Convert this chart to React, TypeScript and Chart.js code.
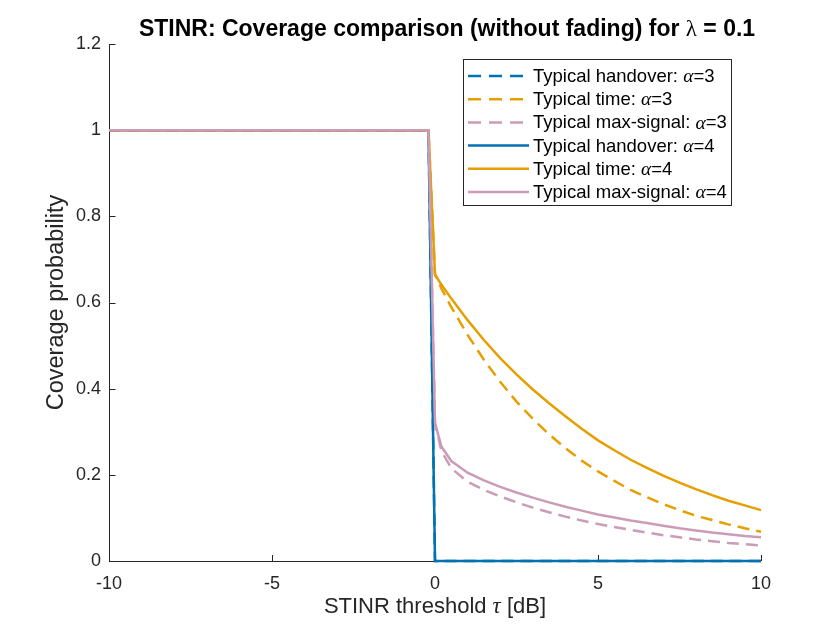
import React, { useEffect, useRef } from "react";
import { Chart, registerables } from "chart.js";

Chart.register(...registerables);

// ---- data ----
const xValues = [-10, -0.2, 0, 0.2, 0.5, 1, 1.5, 2, 2.5, 3, 3.5, 4, 4.5, 5, 5.5, 6, 6.5, 7, 7.5, 8, 8.5, 9, 9.5, 10];

const handoverA3 = [1, 1, 0, 0, 0, 0, 0, 0, 0, 0, 0, 0, 0, 0, 0, 0, 0, 0, 0, 0, 0, 0, 0, 0];
const timeA3 = [1, 1, 0.665, 0.632, 0.589, 0.525, 0.467, 0.416, 0.37, 0.33, 0.294, 0.262, 0.233, 0.208, 0.186, 0.165, 0.148, 0.132, 0.118, 0.105, 0.095, 0.085, 0.076, 0.068];
const maxSignalA3 = [1, 1, 0.32, 0.255, 0.215, 0.184, 0.165, 0.15, 0.136, 0.124, 0.113, 0.103, 0.094, 0.086, 0.079, 0.072, 0.066, 0.06, 0.055, 0.05, 0.046, 0.042, 0.039, 0.036];
const handoverA4 = [1, 1, 0, 0, 0, 0, 0, 0, 0, 0, 0, 0, 0, 0, 0, 0, 0, 0, 0, 0, 0, 0, 0, 0];
const timeA4 = [1, 1, 0.665, 0.641, 0.609, 0.559, 0.513, 0.471, 0.433, 0.398, 0.366, 0.336, 0.307, 0.28, 0.257, 0.235, 0.216, 0.198, 0.182, 0.167, 0.153, 0.14, 0.129, 0.118];
const maxSignalA4 = [1, 1, 0.32, 0.265, 0.232, 0.205, 0.187, 0.172, 0.159, 0.147, 0.136, 0.126, 0.117, 0.108, 0.101, 0.094, 0.088, 0.082, 0.076, 0.071, 0.066, 0.062, 0.058, 0.055];

const seriesNames = ["Typical handover", "Typical time", "Typical max-signal", "Typical handover", "Typical time", "Typical max-signal"];
const seriesAlpha = ["3", "3", "3", "4", "4", "4"];
const seriesValues = [handoverA3, timeA3, maxSignalA3, handoverA4, timeA4, maxSignalA4];
const seriesDashed = [true, true, true, false, false, false];

const xTicks = [-10, -5, 0, 5, 10];
const yTicks = [0, 0.2, 0.4, 0.6, 0.8, 1, 1.2];

const BLUE = "#0072B2";
const ORANGE = "#E69F00";
const PINK = "#CC9BB8";
const seriesColors = [BLUE, ORANGE, PINK, BLUE, ORANGE, PINK];

const AX = "#262626";
const SANS = "'Liberation Sans', Arial, Helvetica, sans-serif";
const SERIF = "'Liberation Serif', 'DejaVu Serif', serif";
const DASH = [12, 7];

type Part = { text: string; font: string };

function richWidth(ctx: CanvasRenderingContext2D, parts: Part[]) {
  let w = 0;
  for (const p of parts) {
    ctx.font = p.font;
    w += ctx.measureText(p.text).width;
  }
  return w;
}

function drawRich(ctx: CanvasRenderingContext2D, parts: Part[], x: number, y: number, align: "left" | "center") {
  const total = richWidth(ctx, parts);
  let cx = align === "center" ? x - total / 2 : x;
  ctx.textAlign = "left";
  ctx.textBaseline = "middle";
  for (const p of parts) {
    ctx.font = p.font;
    ctx.fillText(p.text, cx, y);
    cx += ctx.measureText(p.text).width;
  }
}

const decorPlugin = {
  id: "decor",
  beforeDatasetsDraw(chart: any) {
    const { ctx, chartArea, scales } = chart;
    const { left, right, top, bottom } = chartArea;
    ctx.save();
    ctx.strokeStyle = AX;
    ctx.lineWidth = 1;
    ctx.beginPath();
    ctx.moveTo(left + 0.5, top);
    ctx.lineTo(left + 0.5, bottom + 0.5);
    ctx.lineTo(right, bottom + 0.5);
    for (const v of yTicks) {
      const py = Math.round(scales.y.getPixelForValue(v)) + 0.5;
      ctx.moveTo(left, py);
      ctx.lineTo(left + 6.5, py);
    }
    for (const v of xTicks) {
      const px = Math.round(scales.x.getPixelForValue(v)) + 0.5;
      ctx.moveTo(px, bottom);
      ctx.lineTo(px, bottom - 6);
    }
    ctx.stroke();
    ctx.restore();
  },
  afterDraw(chart: any) {
    const { ctx, chartArea } = chart;
    const { left, right, top, bottom } = chartArea;
    ctx.save();
    ctx.fillStyle = "#000";
    // title
    drawRich(
      ctx,
      [
        { text: "STINR: Coverage comparison (without fading) for ", font: `bold 23px ${SANS}` },
        { text: "λ", font: `23px ${SERIF}` },
        { text: " = 0.1", font: `bold 23px ${SANS}` },
      ],
      447,
      30,
      "center"
    );
    // x label
    ctx.fillStyle = AX;
    drawRich(
      ctx,
      [
        { text: "STINR threshold ", font: `22px ${SANS}` },
        { text: "τ", font: `italic 23px ${SERIF}` },
        { text: " [dB]", font: `22px ${SANS}` },
      ],
      (left + right) / 2,
      607,
      "center"
    );
    // y label
    ctx.save();
    ctx.translate(57, (top + bottom) / 2);
    ctx.rotate(-Math.PI / 2);
    drawRich(ctx, [{ text: "Coverage probability", font: `23.5px ${SANS}` }], 0, 0, "center");
    ctx.restore();

    // legend
    const bx = 463.5, by = 59.5, bw = 268, bh = 146;
    ctx.fillStyle = "#fff";
    ctx.fillRect(bx, by, bw, bh);
    ctx.strokeStyle = AX;
    ctx.lineWidth = 1;
    ctx.strokeRect(bx, by, bw, bh);
    for (let i = 0; i < seriesNames.length; i++) {
      const ry = 76 + i * 23.2;
      ctx.save();
      ctx.strokeStyle = seriesColors[i];
      ctx.lineWidth = 2.5;
      ctx.setLineDash(seriesDashed[i] ? [13, 8] : []);
      ctx.beginPath();
      ctx.moveTo(468, ry);
      ctx.lineTo(529, ry);
      ctx.stroke();
      ctx.restore();
      ctx.fillStyle = "#000";
      drawRich(
        ctx,
        [
          { text: seriesNames[i] + ": ", font: `18.5px ${SANS}` },
          { text: "α", font: `italic 19.5px ${SERIF}` },
          { text: "=" + seriesAlpha[i], font: `18.5px ${SANS}` },
        ],
        533,
        ry + 1,
        "left"
      );
    }
    ctx.restore();
  },
};

export default function App() {
  const canvasRef = useRef<HTMLCanvasElement | null>(null);

  useEffect(() => {
    document.body.style.margin = "0";
    const canvas = canvasRef.current;
    if (!canvas) return;
    const datasets = seriesValues.map((vals, i) => ({
      label: seriesNames[i] + ": α=" + seriesAlpha[i],
      data: xValues.map((x, k) => ({ x, y: vals[k] })),
      borderColor: seriesColors[i],
      backgroundColor: seriesColors[i],
      borderWidth: 2.5,
      borderDash: seriesDashed[i] ? DASH : [],
      pointRadius: 0,
      pointHoverRadius: 0,
      fill: false,
      tension: 0,
      order: 6 - i,
      clip: false as any,
    }));

    const chart = new Chart(canvas, {
      type: "line",
      data: { datasets: datasets as any },
      options: {
        animation: false,
        responsive: false,
        devicePixelRatio: 1,
        layout: { padding: { left: 0, right: 79, top: 44, bottom: 0 } },
        plugins: {
          legend: { display: false },
          title: { display: false },
          tooltip: { enabled: false },
        },
        events: [],
        scales: {
          x: {
            type: "linear",
            min: -10,
            max: 10,
            grid: { display: false },
            border: { display: false },
            ticks: {
              stepSize: 5,
              color: AX,
              font: { family: SANS, size: 18 },
              padding: 4,
              maxRotation: 0,
              callback: (v: any) => String(v),
            },
            afterFit: (s: any) => {
              s.height = 69;
            },
          },
          y: {
            type: "linear",
            min: 0,
            max: 1.2,
            grid: { display: false },
            border: { display: false },
            ticks: {
              stepSize: 0.2,
              color: AX,
              font: { family: SANS, size: 18 },
              padding: 0,
              callback: (v: any) => String(Number(Number(v).toFixed(1))),
            },
            afterFit: (s: any) => {
              s.width = 109;
            },
          },
        },
      },
      plugins: [decorPlugin],
    });
    return () => chart.destroy();
  }, []);

  return (
    <div style={{ width: 840, height: 630, background: "#fff" }}>
      <canvas ref={canvasRef} width={840} height={630} style={{ display: "block" }} />
    </div>
  );
}
